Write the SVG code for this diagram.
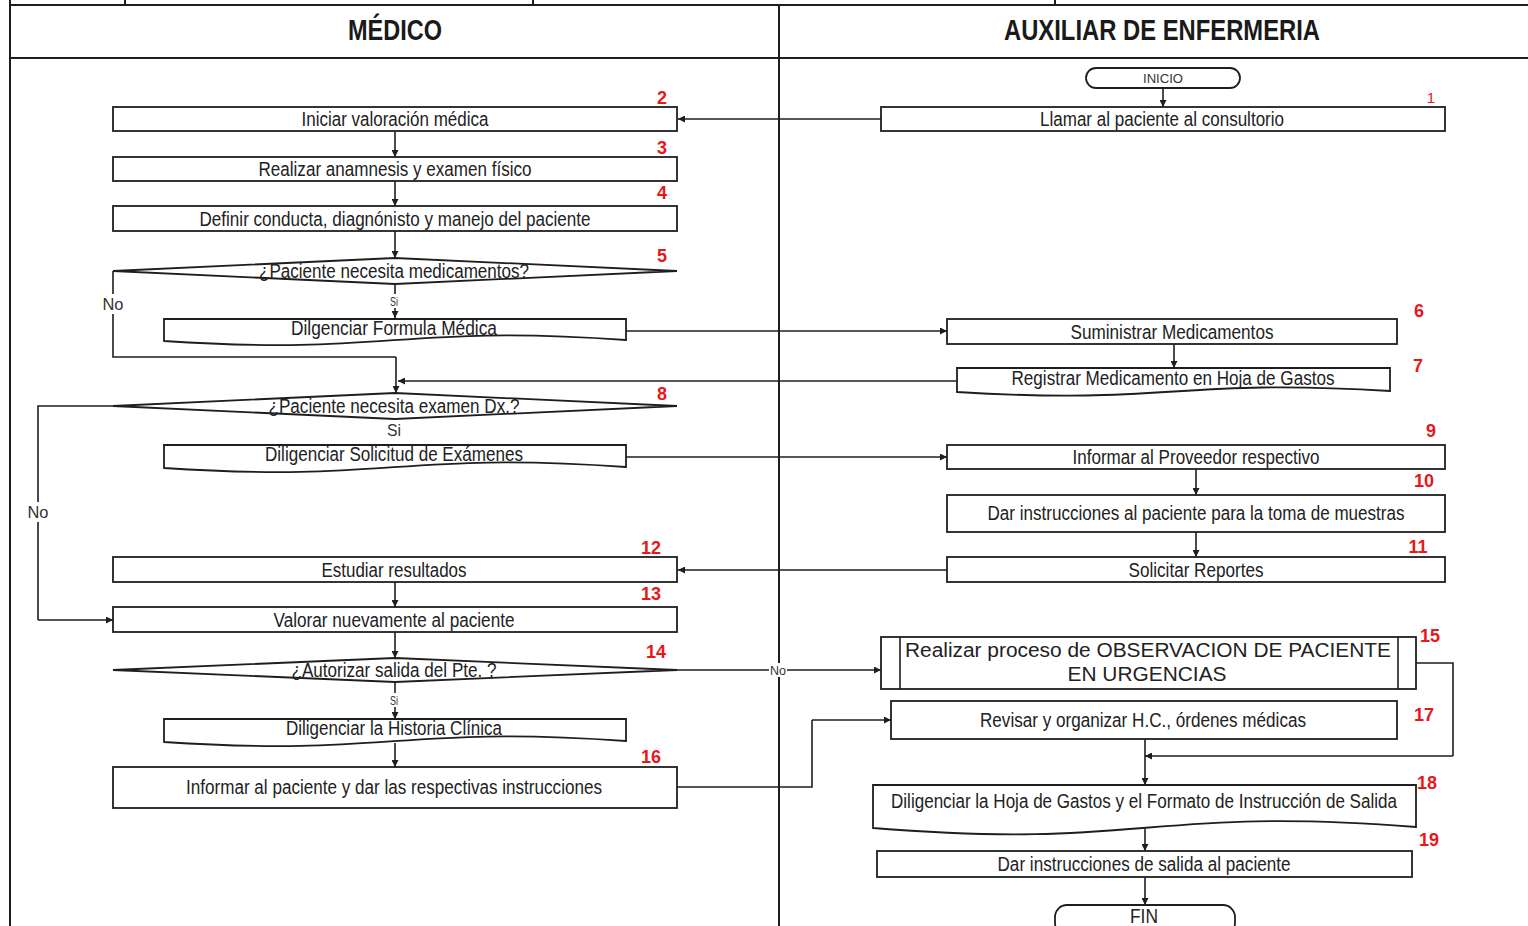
<svg xmlns="http://www.w3.org/2000/svg" width="1528" height="926" viewBox="0 0 1528 926">
  <style>
    .frame { fill: none; stroke: #1e1e1e; stroke-width: 2; }
    .box { fill: #ffffff; stroke: #1e1e1e; stroke-width: 1.8; }
    .ln { fill: none; stroke: #1e1e1e; stroke-width: 1.6; }
    .arr { fill: none; stroke: #1e1e1e; stroke-width: 1.6; marker-end: url(#ah); }
    .t { font-family: "Liberation Sans", Arial, sans-serif; font-size: 20px; fill: #222222; text-anchor: middle; }
    .hd { font-family: "Liberation Sans", Arial, sans-serif; font-size: 29px; font-weight: bold; fill: #1a1a1a; text-anchor: middle; }
    .num { font-family: "Liberation Sans", Arial, sans-serif; font-size: 18px; font-weight: bold; fill: #e8171b; text-anchor: middle; }
    .lbl { font-family: "Liberation Sans", Arial, sans-serif; font-size: 17px; fill: #333333; text-anchor: middle; }
    .sm { font-family: "Liberation Sans", Arial, sans-serif; font-size: 13px; fill: #333333; text-anchor: middle; }
    .wide { font-family: "Liberation Sans", Arial, sans-serif; font-size: 20px; fill: #222222; text-anchor: middle; }
    .bg { fill: #ffffff; }
  </style>
  <defs>
    <marker id="ah" viewBox="0 0 10 10" refX="10" refY="5" markerWidth="7" markerHeight="7" markerUnits="userSpaceOnUse" orient="auto">
      <path d="M0,0 L10,5 L0,10 z" fill="#1e1e1e"/>
    </marker>
  </defs>

  <rect width="1528" height="926" fill="#ffffff"/>

  <!-- swimlane frame -->
  <g id="lanes">
    <line class="frame" x1="10" y1="0" x2="10" y2="926"/>
    <line class="frame" x1="10" y1="5" x2="1528" y2="5"/>
    <line class="frame" x1="125" y1="0" x2="125" y2="5"/>
    <line class="frame" x1="533" y1="0" x2="533" y2="5"/>
    <line class="frame" x1="1055" y1="0" x2="1055" y2="5"/>
    <line class="frame" x1="10" y1="58" x2="1528" y2="58"/>
    <line class="frame" x1="779" y1="5" x2="779" y2="926"/>
    <text class="hd" x="395" y="40" textLength="94" lengthAdjust="spacingAndGlyphs">MÉDICO</text>
    <text class="hd" x="1162" y="40" textLength="316" lengthAdjust="spacingAndGlyphs">AUXILIAR DE ENFERMERIA</text>
  </g>

  <!-- connectors -->
  <g id="connectors">
    <path class="arr" d="M1163,88 V107"/>
    <path class="arr" d="M881,119 H678"/>
    <path class="arr" d="M395,131 V157"/>
    <path class="arr" d="M395,181 V206"/>
    <path class="arr" d="M395,231 V258"/>
    <path class="arr" d="M395,284 V318"/>
    <path class="ln" d="M113,271 V357 H396"/>
    <path class="arr" d="M396,357 V393"/>
    <path class="arr" d="M626,331 H947"/>
    <path class="arr" d="M1174,344 V368"/>
    <path class="arr" d="M957,381 H398"/>
    <path class="ln" d="M113,406 H38 V620"/>
    <path class="arr" d="M38,620 H113"/>
    <path class="arr" d="M626,457 H947"/>
    <path class="arr" d="M1196,469 V495"/>
    <path class="arr" d="M1196,532 V557"/>
    <path class="arr" d="M947,570 H678"/>
    <path class="arr" d="M395,582 V607"/>
    <path class="arr" d="M395,632 V658"/>
    <path class="arr" d="M677,670 H881"/>
    <path class="arr" d="M395,682 V719"/>
    <path class="arr" d="M395,743 V767"/>
    <path class="ln" d="M677,787 H812 V720"/>
    <path class="arr" d="M812,720 H891"/>
    <path class="ln" d="M1416,663 H1453 V756"/>
    <path class="arr" d="M1453,756 H1145"/>
    <path class="arr" d="M1145,739 V785"/>
    <path class="arr" d="M1145,829 V851"/>
    <path class="arr" d="M1145,877 V905"/>

    <!-- branch labels -->
    <rect class="bg" x="102" y="294" width="22" height="20"/>
    <text class="lbl" x="113" y="310" textLength="21" lengthAdjust="spacingAndGlyphs">No</text>
    <rect class="bg" x="389" y="294" width="10" height="14"/>
    <text class="sm" x="394" y="306" textLength="8" lengthAdjust="spacingAndGlyphs">Si</text>
    <rect class="bg" x="27" y="502" width="22" height="20"/>
    <text class="lbl" x="38" y="518" textLength="21" lengthAdjust="spacingAndGlyphs">No</text>
    <text class="lbl" x="394" y="436" textLength="14" lengthAdjust="spacingAndGlyphs">Si</text>
    <rect class="bg" x="769" y="663" width="18" height="14"/>
    <text class="sm" x="778" y="675" textLength="16" lengthAdjust="spacingAndGlyphs">No</text>
    <rect class="bg" x="389" y="693" width="10" height="14"/>
    <text class="sm" x="394" y="705" textLength="8" lengthAdjust="spacingAndGlyphs">Si</text>
  </g>

  <!-- auxiliar lane -->
  <g id="n-inicio">
    <rect class="box" x="1086" y="68" width="154" height="20" rx="10"/>
    <text class="sm" x="1163" y="83" textLength="40" lengthAdjust="spacingAndGlyphs">INICIO</text>
  </g>
  <g id="n1">
    <rect class="box" x="881" y="107" width="564" height="24"/>
    <text class="t" x="1162" y="126" textLength="244" lengthAdjust="spacingAndGlyphs">Llamar al paciente al consultorio</text>
    <text class="num" x="1431" y="103" style="font-weight:normal;font-size:15px">1</text>
  </g>
  <g id="n6">
    <rect class="box" x="947" y="319" width="450" height="25"/>
    <text class="t" x="1172" y="339" textLength="203" lengthAdjust="spacingAndGlyphs">Suministrar Medicamentos</text>
    <text class="num" x="1419" y="317">6</text>
  </g>
  <g id="n7">
    <path class="box" d="M957,368 H1390 V391 C1174,378 1174,405 957,392 Z"/>
    <text class="t" x="1173" y="385" textLength="323" lengthAdjust="spacingAndGlyphs">Registrar Medicamento en Hoja de Gastos</text>
    <text class="num" x="1418" y="372">7</text>
  </g>
  <g id="n9">
    <rect class="box" x="947" y="445" width="498" height="24"/>
    <text class="t" x="1196" y="464" textLength="247" lengthAdjust="spacingAndGlyphs">Informar al Proveedor respectivo</text>
    <text class="num" x="1431" y="437">9</text>
  </g>
  <g id="n10">
    <rect class="box" x="947" y="495" width="498" height="37"/>
    <text class="t" x="1196" y="520" textLength="417" lengthAdjust="spacingAndGlyphs">Dar instrucciones al paciente para la toma de muestras</text>
    <text class="num" x="1424" y="487">10</text>
  </g>
  <g id="n11">
    <rect class="box" x="947" y="557" width="498" height="25"/>
    <text class="t" x="1196" y="577" textLength="135" lengthAdjust="spacingAndGlyphs">Solicitar Reportes</text>
    <text class="num" x="1418" y="553">11</text>
  </g>
  <g id="n15">
    <rect class="box" x="881" y="637" width="535" height="52"/>
    <line class="ln" x1="900" y1="637" x2="900" y2="689"/>
    <line class="ln" x1="1398" y1="637" x2="1398" y2="689"/>
    <text class="wide" x="1148" y="657" textLength="486" lengthAdjust="spacingAndGlyphs">Realizar proceso de OBSERVACION DE PACIENTE</text>
    <text class="wide" x="1147" y="681" textLength="159" lengthAdjust="spacingAndGlyphs">EN URGENCIAS</text>
    <text class="num" x="1430" y="642">15</text>
  </g>
  <g id="n17">
    <rect class="box" x="891" y="701" width="506" height="38"/>
    <text class="t" x="1143" y="727" textLength="326" lengthAdjust="spacingAndGlyphs">Revisar y organizar H.C., órdenes médicas</text>
    <text class="num" x="1424" y="721">17</text>
  </g>
  <g id="n18">
    <path class="box" d="M873,785 H1416 V827 C1145,806 1145,850 873,828 Z"/>
    <text class="t" x="1144" y="808" textLength="506" lengthAdjust="spacingAndGlyphs">Diligenciar la Hoja de Gastos y el Formato de Instrucción de Salida</text>
    <text class="num" x="1427" y="789">18</text>
  </g>
  <g id="n19">
    <rect class="box" x="877" y="851" width="535" height="26"/>
    <text class="t" x="1144" y="871" textLength="293" lengthAdjust="spacingAndGlyphs">Dar instrucciones de salida al paciente</text>
    <text class="num" x="1429" y="846">19</text>
  </g>
  <g id="n-fin">
    <rect class="box" x="1055" y="905" width="180" height="30" rx="12"/>
    <text class="t" x="1144" y="923" textLength="28" lengthAdjust="spacingAndGlyphs">FIN</text>
  </g>

  <!-- medico lane -->
  <g id="n2">
    <rect class="box" x="113" y="107" width="564" height="24"/>
    <text class="t" x="395" y="126" textLength="187" lengthAdjust="spacingAndGlyphs">Iniciar valoración médica</text>
    <text class="num" x="662" y="104">2</text>
  </g>
  <g id="n3">
    <rect class="box" x="113" y="157" width="564" height="24"/>
    <text class="t" x="395" y="176" textLength="273" lengthAdjust="spacingAndGlyphs">Realizar anamnesis y examen físico</text>
    <text class="num" x="662" y="154">3</text>
  </g>
  <g id="n4">
    <rect class="box" x="113" y="206" width="564" height="25"/>
    <text class="t" x="395" y="226" textLength="391" lengthAdjust="spacingAndGlyphs">Definir conducta, diagnónisto y manejo del paciente</text>
    <text class="num" x="662" y="199">4</text>
  </g>
  <g id="n5">
    <path class="box" d="M113,271 L395,258 L677,271 L395,284 Z"/>
    <text class="t" x="394" y="278" textLength="270" lengthAdjust="spacingAndGlyphs">¿Paciente necesita medicamentos?</text>
    <text class="num" x="662" y="262">5</text>
  </g>
  <g id="n5a">
    <path class="box" d="M164,319 H626 V340 C395,324 395,356 164,341 Z"/>
    <text class="t" x="394" y="335" textLength="206" lengthAdjust="spacingAndGlyphs">Dilgenciar Formula Médica</text>
  </g>
  <g id="n8">
    <path class="box" d="M113,406 L395,393 L677,406 L395,419 Z"/>
    <text class="t" x="394" y="413" textLength="251" lengthAdjust="spacingAndGlyphs">¿Paciente necesita examen Dx.?</text>
    <text class="num" x="662" y="400">8</text>
  </g>
  <g id="n8a">
    <path class="box" d="M164,445 H626 V467 C395,451 395,483 164,468 Z"/>
    <text class="t" x="394" y="461" textLength="258" lengthAdjust="spacingAndGlyphs">Diligenciar Solicitud de Exámenes</text>
  </g>
  <g id="n12">
    <rect class="box" x="113" y="557" width="564" height="25"/>
    <text class="t" x="394" y="577" textLength="145" lengthAdjust="spacingAndGlyphs">Estudiar resultados</text>
    <text class="num" x="651" y="554">12</text>
  </g>
  <g id="n13">
    <rect class="box" x="113" y="607" width="564" height="25"/>
    <text class="t" x="394" y="627" textLength="241" lengthAdjust="spacingAndGlyphs">Valorar nuevamente al paciente</text>
    <text class="num" x="651" y="600">13</text>
  </g>
  <g id="n14">
    <path class="box" d="M113,670 L395,658 L677,670 L395,682 Z"/>
    <text class="t" x="394" y="677" textLength="205" lengthAdjust="spacingAndGlyphs">¿Autorizar salida del Pte. ?</text>
    <text class="num" x="656" y="658">14</text>
  </g>
  <g id="n14a">
    <path class="box" d="M164,719 H626 V741 C395,725 395,757 164,742 Z"/>
    <text class="t" x="394" y="735" textLength="216" lengthAdjust="spacingAndGlyphs">Diligenciar la Historia Clínica</text>
  </g>
  <g id="n16">
    <rect class="box" x="113" y="767" width="564" height="41"/>
    <text class="t" x="394" y="794" textLength="416" lengthAdjust="spacingAndGlyphs">Informar al paciente y dar las respectivas instrucciones</text>
    <text class="num" x="651" y="763">16</text>
  </g>
</svg>
